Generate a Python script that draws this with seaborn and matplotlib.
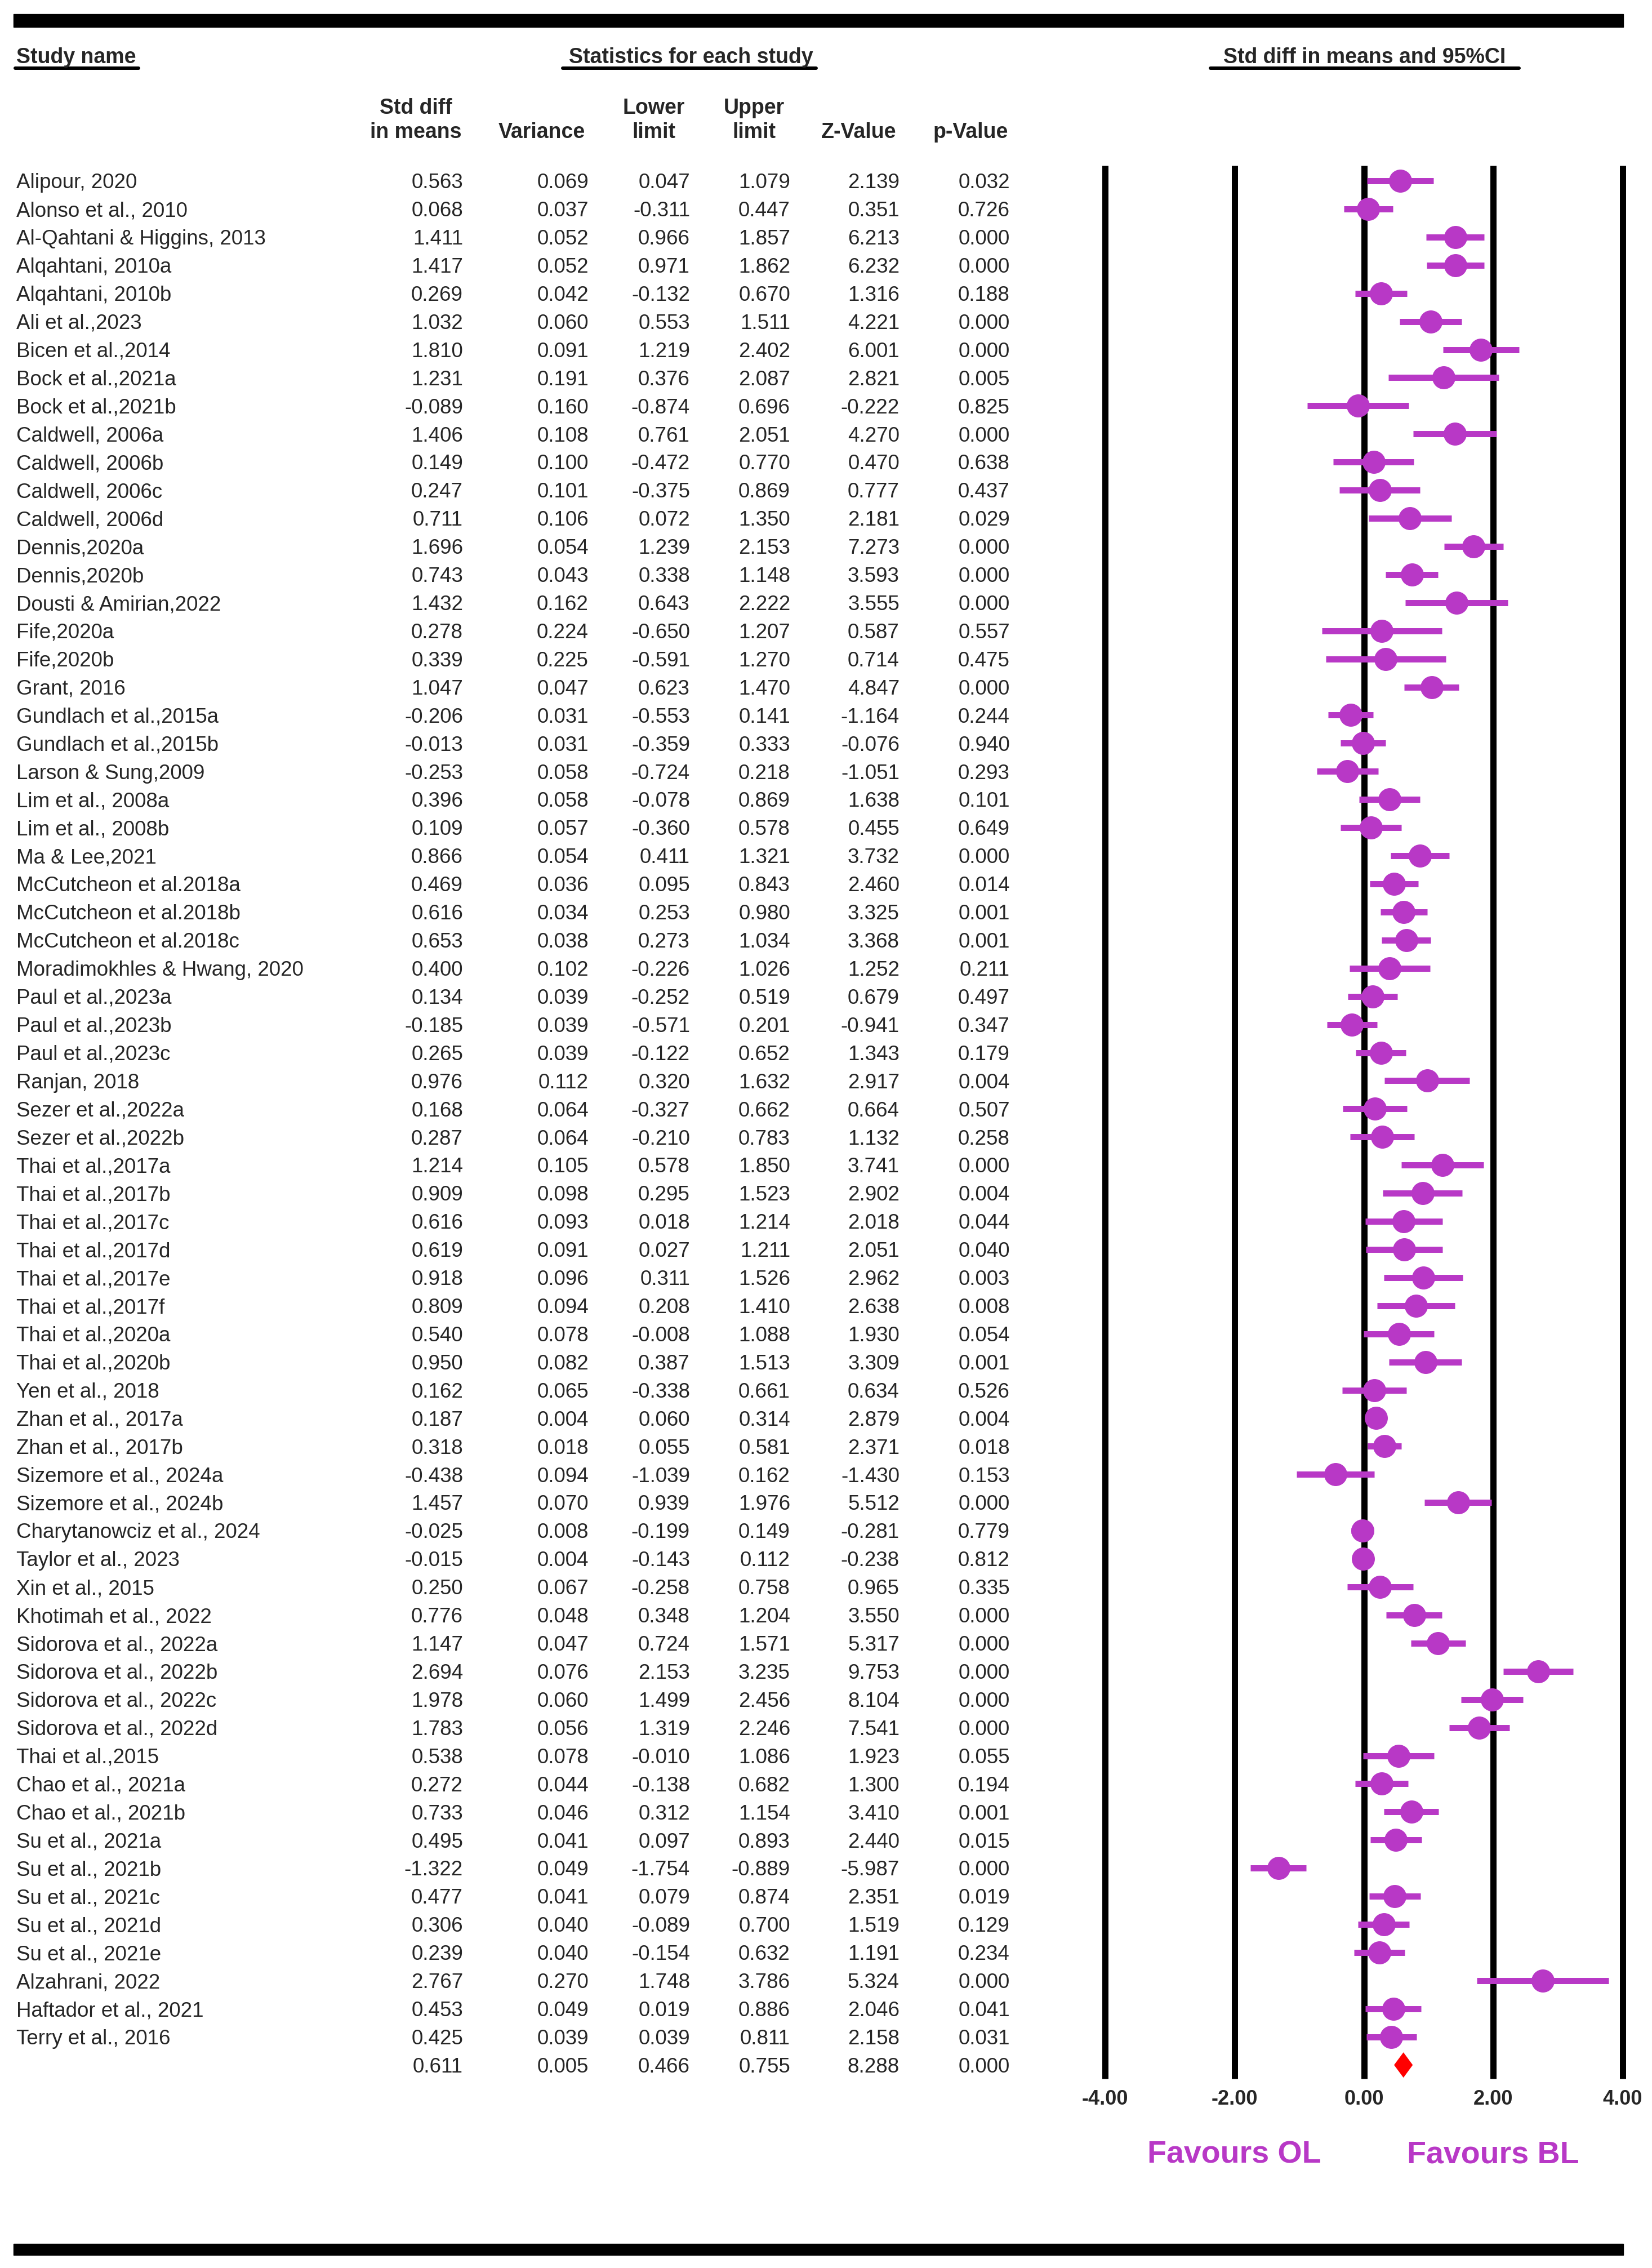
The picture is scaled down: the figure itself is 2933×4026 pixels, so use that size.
import numpy as np
import seaborn as sns
import matplotlib.pyplot as plt
import matplotlib.transforms as mtransforms
from matplotlib.patches import Rectangle

study = [
    'Alipour, 2020', 'Alonso et al., 2010', 'Al-Qahtani & Higgins, 2013', 'Alqahtani, 2010a',
    'Alqahtani, 2010b', 'Ali et al.,2023', 'Bicen et al.,2014', 'Bock et al.,2021a',
    'Bock et al.,2021b', 'Caldwell, 2006a', 'Caldwell, 2006b', 'Caldwell, 2006c',
    'Caldwell, 2006d', 'Dennis,2020a', 'Dennis,2020b', 'Dousti & Amirian,2022',
    'Fife,2020a', 'Fife,2020b', 'Grant, 2016', 'Gundlach et al.,2015a',
    'Gundlach et al.,2015b', 'Larson & Sung,2009', 'Lim et al., 2008a', 'Lim et al., 2008b',
    'Ma & Lee,2021', 'McCutcheon et al.2018a', 'McCutcheon et al.2018b', 'McCutcheon et al.2018c',
    'Moradimokhles & Hwang, 2020', 'Paul et al.,2023a', 'Paul et al.,2023b', 'Paul et al.,2023c',
    'Ranjan, 2018', 'Sezer et al.,2022a', 'Sezer et al.,2022b', 'Thai et al.,2017a',
    'Thai et al.,2017b', 'Thai et al.,2017c', 'Thai et al.,2017d', 'Thai et al.,2017e',
    'Thai et al.,2017f', 'Thai et al.,2020a', 'Thai et al.,2020b', 'Yen et al., 2018',
    'Zhan et al., 2017a', 'Zhan et al., 2017b', 'Sizemore et al., 2024a', 'Sizemore et al., 2024b',
    'Charytanowciz et al., 2024', 'Taylor et al., 2023', 'Xin et al., 2015', 'Khotimah et al., 2022',
    'Sidorova et al., 2022a', 'Sidorova et al., 2022b', 'Sidorova et al., 2022c', 'Sidorova et al., 2022d',
    'Thai et al.,2015', 'Chao et al., 2021a', 'Chao et al., 2021b', 'Su et al., 2021a',
    'Su et al., 2021b', 'Su et al., 2021c', 'Su et al., 2021d', 'Su et al., 2021e',
    'Alzahrani, 2022', 'Haftador et al., 2021', 'Terry et al., 2016',
]
std_diff = [
    0.563, 0.068, 1.411, 1.417, 0.269, 1.032, 1.810, 1.231, -0.089, 1.406, 0.149, 0.247,
    0.711, 1.696, 0.743, 1.432, 0.278, 0.339, 1.047, -0.206, -0.013, -0.253, 0.396, 0.109,
    0.866, 0.469, 0.616, 0.653, 0.400, 0.134, -0.185, 0.265, 0.976, 0.168, 0.287, 1.214,
    0.909, 0.616, 0.619, 0.918, 0.809, 0.540, 0.950, 0.162, 0.187, 0.318, -0.438, 1.457,
    -0.025, -0.015, 0.250, 0.776, 1.147, 2.694, 1.978, 1.783, 0.538, 0.272, 0.733, 0.495,
    -1.322, 0.477, 0.306, 0.239, 2.767, 0.453, 0.425,
]
variance = [
    0.069, 0.037, 0.052, 0.052, 0.042, 0.060, 0.091, 0.191, 0.160, 0.108, 0.100, 0.101,
    0.106, 0.054, 0.043, 0.162, 0.224, 0.225, 0.047, 0.031, 0.031, 0.058, 0.058, 0.057,
    0.054, 0.036, 0.034, 0.038, 0.102, 0.039, 0.039, 0.039, 0.112, 0.064, 0.064, 0.105,
    0.098, 0.093, 0.091, 0.096, 0.094, 0.078, 0.082, 0.065, 0.004, 0.018, 0.094, 0.070,
    0.008, 0.004, 0.067, 0.048, 0.047, 0.076, 0.060, 0.056, 0.078, 0.044, 0.046, 0.041,
    0.049, 0.041, 0.040, 0.040, 0.270, 0.049, 0.039,
]
lower = [
    0.047, -0.311, 0.966, 0.971, -0.132, 0.553, 1.219, 0.376, -0.874, 0.761, -0.472, -0.375,
    0.072, 1.239, 0.338, 0.643, -0.650, -0.591, 0.623, -0.553, -0.359, -0.724, -0.078, -0.360,
    0.411, 0.095, 0.253, 0.273, -0.226, -0.252, -0.571, -0.122, 0.320, -0.327, -0.210, 0.578,
    0.295, 0.018, 0.027, 0.311, 0.208, -0.008, 0.387, -0.338, 0.060, 0.055, -1.039, 0.939,
    -0.199, -0.143, -0.258, 0.348, 0.724, 2.153, 1.499, 1.319, -0.010, -0.138, 0.312, 0.097,
    -1.754, 0.079, -0.089, -0.154, 1.748, 0.019, 0.039,
]
upper = [
    1.079, 0.447, 1.857, 1.862, 0.670, 1.511, 2.402, 2.087, 0.696, 2.051, 0.770, 0.869,
    1.350, 2.153, 1.148, 2.222, 1.207, 1.270, 1.470, 0.141, 0.333, 0.218, 0.869, 0.578,
    1.321, 0.843, 0.980, 1.034, 1.026, 0.519, 0.201, 0.652, 1.632, 0.662, 0.783, 1.850,
    1.523, 1.214, 1.211, 1.526, 1.410, 1.088, 1.513, 0.661, 0.314, 0.581, 0.162, 1.976,
    0.149, 0.112, 0.758, 1.204, 1.571, 3.235, 2.456, 2.246, 1.086, 0.682, 1.154, 0.893,
    -0.889, 0.874, 0.700, 0.632, 3.786, 0.886, 0.811,
]
z_value = [
    2.139, 0.351, 6.213, 6.232, 1.316, 4.221, 6.001, 2.821, -0.222, 4.270, 0.470, 0.777,
    2.181, 7.273, 3.593, 3.555, 0.587, 0.714, 4.847, -1.164, -0.076, -1.051, 1.638, 0.455,
    3.732, 2.460, 3.325, 3.368, 1.252, 0.679, -0.941, 1.343, 2.917, 0.664, 1.132, 3.741,
    2.902, 2.018, 2.051, 2.962, 2.638, 1.930, 3.309, 0.634, 2.879, 2.371, -1.430, 5.512,
    -0.281, -0.238, 0.965, 3.550, 5.317, 9.753, 8.104, 7.541, 1.923, 1.300, 3.410, 2.440,
    -5.987, 2.351, 1.519, 1.191, 5.324, 2.046, 2.158,
]
p_value = [
    0.032, 0.726, 0.000, 0.000, 0.188, 0.000, 0.000, 0.005, 0.825, 0.000, 0.638, 0.437,
    0.029, 0.000, 0.000, 0.000, 0.557, 0.475, 0.000, 0.244, 0.940, 0.293, 0.101, 0.649,
    0.000, 0.014, 0.001, 0.001, 0.211, 0.497, 0.347, 0.179, 0.004, 0.507, 0.258, 0.000,
    0.004, 0.044, 0.040, 0.003, 0.008, 0.054, 0.001, 0.526, 0.004, 0.018, 0.153, 0.000,
    0.779, 0.812, 0.335, 0.000, 0.000, 0.000, 0.000, 0.000, 0.055, 0.194, 0.001, 0.015,
    0.000, 0.019, 0.129, 0.234, 0.000, 0.041, 0.031,
]

# pooled result (last row)
overall_std_diff = 0.611
overall_variance = 0.005
overall_lower = 0.466
overall_upper = 0.755
overall_z = 8.288
overall_p = 0.000

x_ticks = [-4, -2, 0, 2, 4]
favours_labels = ['Favours OL', 'Favours BL']
favours_x = [-2, 2]

purple = '#B838C6'

sns.set_style('white')
plt.rcParams['font.family'] = ['Liberation Sans', 'DejaVu Sans']
plt.rcParams['lines.solid_capstyle'] = 'butt'

W, H = 2933, 4026
fig = plt.figure(figsize=(W / 100, H / 100), dpi=100)

# overlay in pixel coords for table text and rules
over = fig.add_axes([0, 0, 1, 1])
over.set_xlim(0, W)
over.set_ylim(H, 0)
over.axis('off')

# forest plot axes
ax_top, ax_bot = 294, 3690
ax = fig.add_axes([1962 / W, 1 - ax_bot / H, 919 / W, (ax_bot - ax_top) / H])
ax.patch.set_alpha(0)
row0, dy = 321, 49.92
n = len(study)
rows = np.arange(n)
ax.set_xlim(-4, 4)
ax.set_ylim((ax_bot - row0) / dy, (ax_top - row0) / dy)

ax.grid(True, axis='x', color='black', linewidth=7.9)
ax.grid(False, axis='y')
for s in ax.spines.values():
    s.set_visible(False)
ax.set_yticks([])
ax.set_xticks(x_ticks)
ax.set_xticklabels([f'{t:.2f}' for t in x_ticks], fontsize=26, fontweight='bold')
ax.tick_params(axis='x', length=0, pad=14)
for gl in ax.get_xgridlines():
    gl.set_clip_on(False)

ax.hlines(rows, lower, upper, colors=purple, linewidth=7.9, zorder=3)
sns.scatterplot(x=std_diff, y=rows, s=870, color=purple, linewidth=0, ax=ax, zorder=4, legend=False)
ax.fill([overall_lower, overall_std_diff, overall_upper, overall_std_diff],
        [n, n - 0.45, n, n + 0.45], color='red', linewidth=0, zorder=4)

# favours labels
tf = mtransforms.blended_transform_factory(ax.transData, over.transData)
for lab, fx in zip(favours_labels, favours_x):
    ax.text(fx, 3840, lab, transform=tf, ha='center', va='baseline', fontsize=40,
            fontweight='bold', color=purple, clip_on=False)

# top and bottom rules
over.add_patch(Rectangle((24, 25), 2858, 23, color='black'))
over.add_patch(Rectangle((24, 3983), 2858, 20, color='black'))

# section headers
hdr = dict(fontsize=27, fontweight='bold', va='baseline')
over.text(29, 112, 'Study name', ha='left', **hdr)
over.text(1227, 112, 'Statistics for each study', ha='center', **hdr)
over.text(2423, 112, 'Std diff in means and 95%CI', ha='center', **hdr)
for x0, x1 in [(27, 246), (999, 1449), (2149, 2697)]:
    over.plot([x0, x1], [121, 121], color='black', linewidth=4.3, solid_capstyle='round')

# column headers
col_hdr = [
    (738, 'Std diff', 'in means'),
    (962, '', 'Variance'),
    (1161, 'Lower', 'limit'),
    (1339, 'Upper', 'limit'),
    (1525, '', 'Z-Value'),
    (1723, '', 'p-Value'),
]
for cx, l1, l2 in col_hdr:
    if l1:
        over.text(cx, 202, l1, ha='center', **hdr)
    over.text(cx, 245, l2, ha='center', **hdr)

# table body
tt = mtransforms.blended_transform_factory(over.transData, ax.transData)
col_right = [822, 1045, 1225, 1403, 1597, 1793]
cols = [std_diff, variance, lower, upper, z_value, p_value]
body = dict(fontsize=26.5, va='baseline', transform=tt, clip_on=False)
off = 0.265
for i in range(n):
    ax.text(29, i + off, study[i], ha='left', **body)
    for xr, col in zip(col_right, cols):
        ax.text(xr, i + off, f'{col[i]:.3f}', ha='right', **body)
overall = [overall_std_diff, overall_variance, overall_lower, overall_upper, overall_z, overall_p]
for xr, v in zip(col_right, overall):
    ax.text(xr, n + off, f'{v:.3f}', ha='right', **body)

fig.savefig('out.png', dpi=100)
